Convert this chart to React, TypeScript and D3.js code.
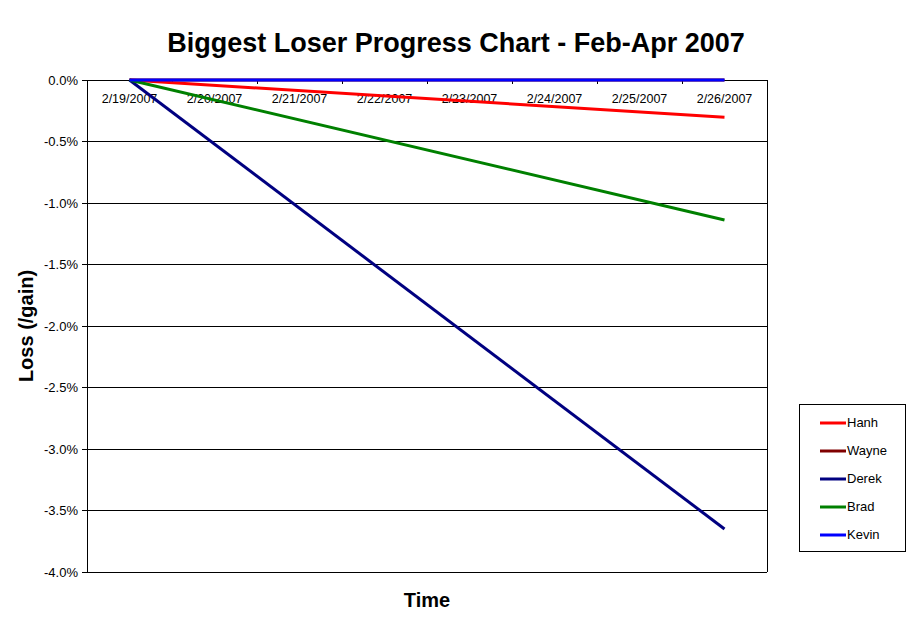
import React from "react";
import * as d3 from "d3";

const dates = ["2/19/2007", "2/20/2007", "2/21/2007", "2/22/2007", "2/23/2007", "2/24/2007", "2/25/2007", "2/26/2007"];
const seriesNames = ["Hanh", "Wayne", "Derek", "Brad", "Kevin"];
const seriesColors = ["#FF0000", "#800000", "#000080", "#008000", "#0000FF"];
const hanh = [0, null, null, null, null, null, null, -0.303];
const wayne = [0, null, null, null, null, null, null, 0];
const derek = [0, null, null, null, null, null, null, -3.65];
const brad = [0, null, null, null, null, null, null, -1.138];
const kevin = [0, 0, 0, 0, 0, 0, 0, 0];
const yTicks = [0, -0.5, -1, -1.5, -2, -2.5, -3, -3.5, -4];

const W = 911, H = 623;
const left = 87, right = 767, top = 80, bottom = 572;
const font = "'Liberation Sans', Arial, sans-serif";

export default function App() {
  const x = d3.scaleBand().domain(dates).range([left, right]);
  const y = d3.scaleLinear().domain([-4, 0]).range([bottom, top]);
  const cx = (d: string) => (x(d) as number) + x.bandwidth() / 2;
  const allSeries = [hanh, wayne, derek, brad, kevin];
  const line = d3
    .line<[string, number]>()
    .x((d) => cx(d[0]))
    .y((d) => y(d[1]));
  const fmt = (t: number) => d3.format(".1%")(t / 100).replace("\u2212", "-");
  // draw order: Wayne first so Kevin covers it
  const order = [1, 0, 2, 3, 4];

  return (
    <svg width={W} height={H} style={{ position: "absolute", left: 0, top: 0, background: "#fff" }} fontFamily={font}>
      <rect x={0} y={0} width={W} height={H} fill="#fff" />
      <text x={456} y={52} textAnchor="middle" fontSize={27} fontWeight="bold">
        Biggest Loser Progress Chart - Feb-Apr 2007
      </text>
      {yTicks.map((t) => (
        <g key={t}>
          <line x1={left} x2={right} y1={y(t)} y2={y(t)} stroke="#000" strokeWidth={1} shapeRendering="crispEdges" />
          <line x1={left - 5} x2={left} y1={y(t)} y2={y(t)} stroke="#000" strokeWidth={1} shapeRendering="crispEdges" />
          <text x={78} y={y(t) + 4.5} textAnchor="end" fontSize={13}>
            {fmt(t)}
          </text>
        </g>
      ))}
      <line x1={left} x2={left} y1={top} y2={bottom} stroke="#000" shapeRendering="crispEdges" />
      <line x1={right} x2={right} y1={top} y2={bottom} stroke="#000" shapeRendering="crispEdges" />
      {dates.map((d, i) => (
        <line key={"t" + i} x1={left + i * x.bandwidth()} x2={left + i * x.bandwidth()} y1={top} y2={top + 4} stroke="#000" shapeRendering="crispEdges" />
      ))}
      {dates.map((d) => (
        <text key={d} x={cx(d)} y={103} textAnchor="middle" fontSize={12.5}>
          {d}
        </text>
      ))}
      {order.map((si) => {
        const pts = dates
          .map((d, i) => [d, allSeries[si][i]] as [string, number | null])
          .filter((p) => p[1] !== null) as [string, number][];
        return <path key={si} d={line(pts) || ""} fill="none" stroke={seriesColors[si]} strokeWidth={3} />;
      })}
      <text x={427} y={607} textAnchor="middle" fontSize={20} fontWeight="bold">
        Time
      </text>
      <text transform="translate(33,326) rotate(-90)" textAnchor="middle" fontSize={20} fontWeight="bold">
        Loss (/gain)
      </text>
      <rect x={799.5} y={404.5} width={106} height={147} fill="#fff" stroke="#000" shapeRendering="crispEdges" />
      {seriesNames.map((n, i) => (
        <g key={n}>
          <line x1={820} x2={846} y1={423 + i * 28} y2={423 + i * 28} stroke={seriesColors[i]} strokeWidth={3} />
          <text x={847} y={427 + i * 28} fontSize={13}>
            {n}
          </text>
        </g>
      ))}
    </svg>
  );
}
